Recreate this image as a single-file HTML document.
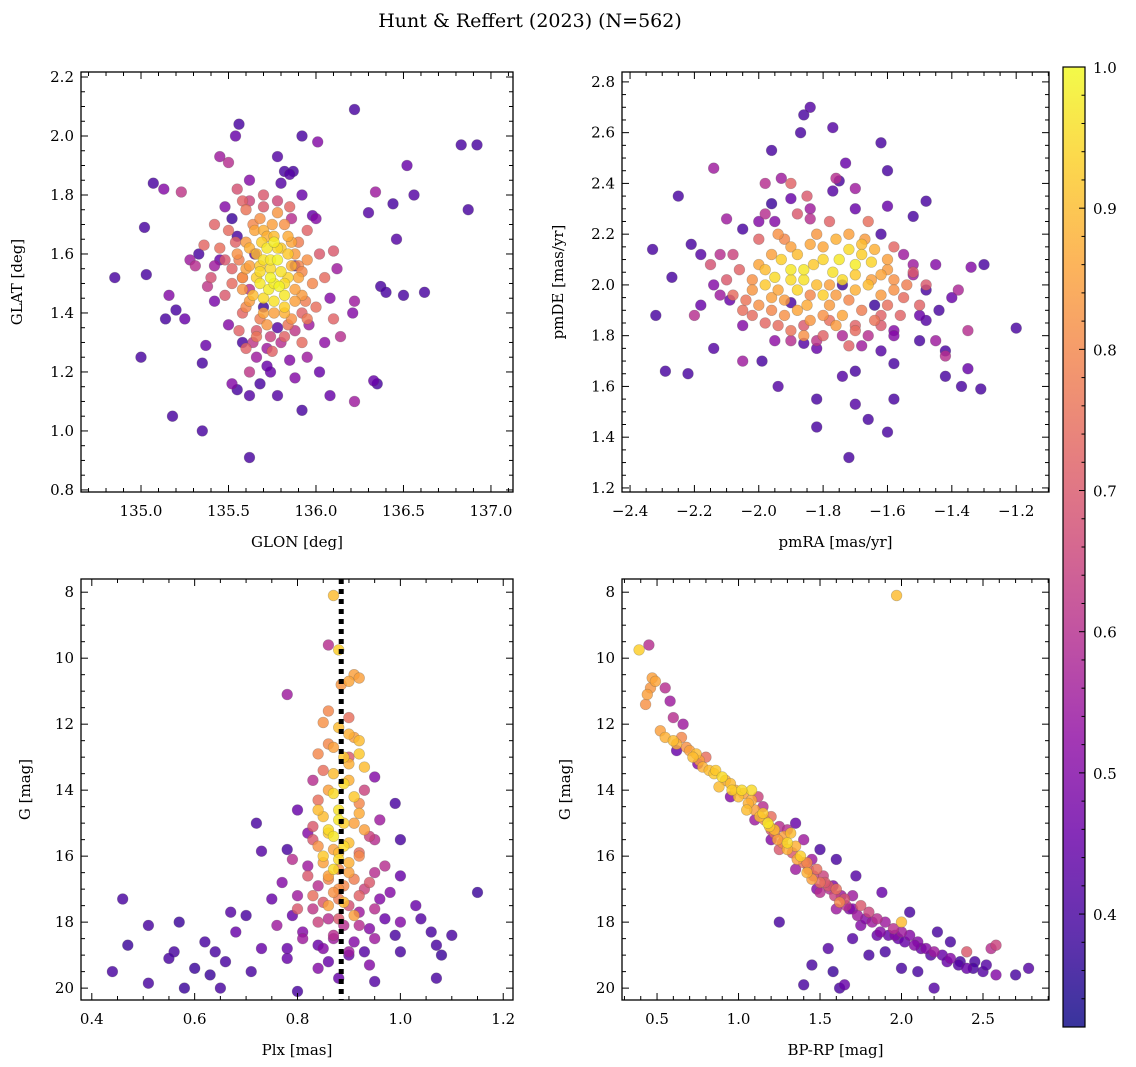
<!DOCTYPE html>
<html><head><meta charset="utf-8">
<style>
html,body{margin:0;padding:0;background:#fff;}
svg{display:block;font-family:"DejaVu Serif","Liberation Serif",serif;}
</style></head>
<body>
<svg id="fig" width="1136" height="1067" viewBox="0 0 1136 1067" xmlns="http://www.w3.org/2000/svg">
<text x="530" y="27" text-anchor="middle" font-size="19">Hunt &amp; Reffert (2023) (N=562)</text>
</svg>
<script>
// ---- Panel 1: GLON vs GLAT ----
const glon = [136.22,135.56,135.54,135.92,136.01,136.83,136.92,135.45,135.78,135.50,135.87,135.82,135.85,136.52,135.07,135.13,135.23,136.34,135.98,136.3,136.44,136.56,136.87,135.02,136.46,135.03,134.85,135.42,136.37,135.14,135.16,136.4,136.5,136.62,135.20,135.25,136.22,136.21,135.0,135.37,135.35,136.33,136.35,135.18,135.35,135.62,135.92,136.08,136.22,135.78,135.55,135.62,135.68,135.74,
135.72,135.76,135.70,135.78,135.74,135.68,135.73,135.79,135.82,135.76,135.66,135.84,135.80,135.69,
135.62,135.65,135.75,135.84,135.88,135.90,135.88,135.82,135.70,135.62,135.60,135.58,135.95,135.92,135.78,135.68,135.55,135.72,135.86,135.98,
135.50,135.52,135.45,135.60,135.85,135.95,136.02,136.05,136.0,135.95,135.82,135.66,135.58,135.48,135.40,135.42,136.10,135.55,135.70,135.92,135.60,135.75,135.36,136.10,135.58,
135.48,135.45,135.42,135.5,135.58,135.66,135.72,135.85,135.95,136.05,136.08,136.12,136.0,135.92,135.8,135.62,135.52,135.55,135.65,135.88,135.78,135.70,135.62,136.14,136.02,135.88,135.62,135.38,135.31,135.33,135.28,135.52,
135.64,135.70,135.76,135.82,135.86,135.60,135.66,135.72,135.78,135.84,135.90,135.56,135.62,135.68,135.74,135.80,135.86,135.92,135.58,135.64,135.70,135.76,135.82,135.88,135.94,135.52,135.60,135.68,135.76,135.84,135.92,135.66,135.74,135.80,135.56,135.64,135.72,135.88,135.96,135.48,135.54,135.70,135.78,135.86,135.62,135.68,135.82,135.90,135.74,135.58];
const glat = [2.09,2.04,2.0,2.0,1.98,1.97,1.97,1.93,1.93,1.91,1.88,1.88,1.87,1.90,1.84,1.82,1.81,1.81,1.73,1.74,1.77,1.80,1.75,1.69,1.65,1.53,1.52,1.56,1.49,1.38,1.46,1.47,1.46,1.47,1.41,1.38,1.44,1.40,1.25,1.29,1.23,1.17,1.16,1.05,1.0,0.91,1.07,1.12,1.10,1.12,1.14,1.12,1.16,1.20,
1.62,1.64,1.58,1.58,1.55,1.50,1.48,1.49,1.46,1.44,1.52,1.52,1.62,1.64,
1.62,1.68,1.70,1.66,1.60,1.52,1.44,1.40,1.40,1.44,1.55,1.48,1.58,1.46,1.74,1.72,1.60,1.36,1.38,1.50,
1.68,1.55,1.62,1.75,1.76,1.68,1.60,1.52,1.42,1.38,1.32,1.32,1.40,1.46,1.52,1.70,1.61,1.82,1.80,1.30,1.28,1.27,1.63,1.38,1.78,
1.76,1.58,1.44,1.36,1.30,1.25,1.22,1.24,1.25,1.30,1.45,1.55,1.72,1.80,1.84,1.85,1.72,1.66,1.60,1.56,1.35,1.42,1.48,1.32,1.20,1.18,1.20,1.49,1.56,1.60,1.58,1.16,
1.70,1.68,1.66,1.70,1.64,1.64,1.60,1.66,1.62,1.60,1.56,1.58,1.56,1.54,1.58,1.54,1.56,1.54,1.52,1.46,1.45,1.50,1.42,1.48,1.44,1.50,1.42,1.38,1.40,1.36,1.40,1.34,1.32,1.30,1.34,1.30,1.28,1.34,1.36,1.58,1.64,1.76,1.78,1.72,1.78,1.56,1.50,1.64,1.52,1.52];
const prob1 = [.4,.4,.45,.4,.5,.4,.4,.55,.42,.6,.4,.4,.42,.45,.4,.5,.62,.55,.45,.42,.4,.42,.4,.4,.42,.4,.4,.55,.4,.4,.5,.4,.4,.4,.4,.45,.55,.5,.4,.45,.4,.45,.4,.4,.4,.4,.4,.45,.55,.42,.4,.42,.4,.45,
.97,.98,.96,.99,.95,.97,.98,.99,.97,.96,.93,.94,.92,.93,
.88,.86,.85,.87,.84,.86,.85,.88,.86,.84,.85,.83,.82,.84,.83,.82,.82,.83,.82,.80,
.74,.72,.75,.76,.73,.72,.70,.74,.75,.77,.72,.76,.73,.70,.68,.72,.7,.68,.7,.74,.72,.72,.73,.72,.72,
.5,.45,.48,.5,.4,.55,.45,.5,.55,.52,.5,.55,.5,.45,.42,.5,.38,.4,.42,.4,.42,.38,.6,.6,.45,.5,.62,.62,.6,.4,.55,.5,
.8,.88,.9,.82,.86,.84,.9,.88,.95,.92,.8,.78,.85,.95,.97,.96,.88,.8,.82,.9,.95,.98,.93,.85,.78,.74,.8,.78,.85,.76,.72,.7,.65,.6,.72,.62,.55,.62,.55,.7,.72,.7,.66,.6,.65,.92,.95,.78,.99,.76];

// ---- Panel 2: pmRA vs pmDE ----
const pmra = [-1.84,-1.86,-1.77,-1.62,-1.87,-1.73,-1.60,-2.14,-1.96,-2.25,-1.75,-1.77,-1.60,-1.48,-2.33,-2.21,-2.27,-1.30,-1.34,-1.20,-2.32,-2.14,-2.29,-2.22,-1.37,-1.31,-1.35,-1.70,-1.74,-1.58,-1.82,-1.58,-1.70,-1.82,-1.66,-1.60,-1.72,-1.99,-1.94,-1.86,-1.42,-1.42,-1.45,-1.50,-1.48,-1.52,-2.09,-2.12,-2.00,-1.93,-1.90,
-1.95,-1.90,-1.93,-1.98,-1.86,-1.88,-1.75,-1.72,-1.70,-1.68,-1.77,-1.83,-1.65,-1.80,
-2.00,-1.96,-1.85,-1.80,-1.78,-1.70,-1.65,-1.62,-1.74,-1.84,-1.90,-2.02,-1.92,-1.67,-1.60,-1.82,-1.76,-1.86,-1.94,-1.58,
-2.06,-2.08,-2.10,-2.05,-1.98,-1.90,-1.80,-1.70,-1.62,-1.55,-1.52,-1.58,-1.66,-1.78,-1.88,-2.0,-1.85,-2.15,-1.72,-1.48,-1.50,-1.90,-2.02,
-2.12,-2.14,-2.18,-2.05,-1.95,-1.82,-1.68,-1.58,-1.48,-1.44,-1.40,-1.45,-1.55,-1.62,-1.70,-1.84,-1.95,-2.05,-2.18,-2.10,-1.98,-1.76,-1.70,-1.52,-1.38,-1.35,-1.42,-1.50,-1.62,-2.20,-2.05,-1.96,-1.74,-1.64,-1.90,
-1.96,-1.92,-1.88,-1.84,-1.80,-1.76,-1.72,-1.68,-1.64,-1.60,-2.02,-1.98,-1.94,-1.90,-1.86,-1.82,-1.78,-1.74,-1.70,-1.66,-1.62,-1.58,-1.54,-2.04,-2.00,-1.96,-1.92,-1.88,-1.84,-1.80,-1.76,-1.72,-1.68,-1.64,-1.60,-1.56,-1.94,-1.86,-1.78,-1.70,-1.62,-1.90,-1.82,-1.74,-1.66,-2.08,-1.98,-1.52,-1.58,-1.84];
const pmde = [2.70,2.67,2.62,2.56,2.60,2.48,2.45,2.46,2.53,2.35,2.41,2.37,2.31,2.33,2.14,2.16,2.03,2.08,2.07,1.83,1.88,1.75,1.66,1.65,1.60,1.59,1.67,1.66,1.64,1.69,1.55,1.55,1.53,1.44,1.47,1.42,1.32,1.70,1.60,1.77,1.74,1.64,1.78,1.88,1.98,2.04,1.94,2.12,2.25,2.42,2.34,
2.03,2.06,2.10,2.00,2.02,1.98,2.10,2.14,2.08,2.12,2.05,2.08,2.09,1.96,
2.08,1.95,1.92,2.15,1.92,1.98,2.02,1.96,1.88,1.86,2.15,1.98,1.88,2.18,2.10,2.20,1.84,1.80,2.20,2.02,
2.06,1.96,2.02,1.90,1.85,1.82,1.80,1.82,1.88,1.95,2.05,2.15,2.25,2.25,2.28,2.18,2.35,2.08,1.76,2.0,1.92,2.40,1.88,
1.96,2.00,1.92,1.84,1.78,1.75,1.76,1.82,1.86,1.90,1.95,2.08,2.12,2.20,2.30,2.30,2.25,2.22,2.12,2.26,2.40,2.42,2.38,2.27,1.98,1.82,1.72,1.78,1.74,1.88,1.70,2.32,2.0,1.92,1.93,
2.12,2.18,2.12,2.16,2.10,2.18,2.20,2.16,2.14,2.06,2.02,2.06,1.98,2.02,2.06,2.00,2.00,2.02,2.04,2.00,2.04,1.98,2.00,1.94,1.92,1.90,1.94,1.90,1.96,1.88,1.96,1.94,1.90,1.86,1.92,1.88,1.84,1.84,1.86,1.84,1.84,1.78,1.78,1.80,1.80,2.12,2.28,2.08,1.80,2.26];
const prob2 = [.42,.4,.42,.4,.4,.45,.4,.55,.4,.4,.4,.42,.45,.4,.4,.4,.4,.4,.5,.4,.4,.42,.4,.4,.4,.4,.45,.4,.42,.4,.4,.4,.42,.4,.4,.4,.4,.4,.42,.42,.4,.4,.55,.45,.4,.55,.45,.6,.5,.55,.45,
.95,.97,.93,.92,.96,.94,.97,.95,.98,.93,.96,.92,.94,.93,
.86,.85,.87,.86,.84,.88,.85,.84,.86,.83,.85,.83,.82,.84,.85,.83,.84,.82,.82,.82,
.72,.74,.7,.75,.73,.76,.72,.74,.72,.74,.7,.73,.75,.72,.7,.72,.7,.68,.72,.7,.72,.72,.74,
.55,.5,.45,.5,.52,.45,.55,.5,.42,.4,.45,.5,.55,.4,.45,.55,.5,.4,.42,.55,.6,.6,.55,.4,.58,.6,.6,.4,.42,.6,.55,.38,.38,.38,.4,
.85,.8,.9,.86,.94,.88,.85,.9,.88,.84,.82,.9,.86,.95,.97,.9,.85,.95,.92,.9,.86,.82,.78,.76,.82,.8,.84,.86,.8,.82,.84,.8,.78,.76,.75,.72,.74,.7,.75,.72,.7,.6,.62,.58,.6,.65,.6,.55,.5,.6];

// ---- Panel 3: Plx vs G ----
const plx = [0.87,0.88,0.86,0.91,0.90,0.885,0.92,0.78,0.86,0.85,0.90,0.90,0.92,0.87,0.84,0.92,0.90,0.87,0.95,0.89,0.86,0.91,0.84,0.88,0.92,0.85,0.89,0.83,0.93,0.87,0.90,0.84,0.95,0.80,0.82,0.96,0.88,0.92,0.85,0.79,0.97,0.90,0.86,0.82,0.94,0.77,1.0,0.88,0.83,0.92,0.75,0.98,0.86,0.80,0.95,0.70,1.03,0.88,0.84,0.92,0.76,1.0,0.68,0.87,0.81,0.95,1.06,0.62,0.73,0.85,0.90,1.0,0.78,0.66,0.94,0.84,1.08,0.71,0.60,0.88,0.80,0.95,0.78,0.72,0.73,0.99,1.0,0.46,0.44,0.47,0.51,0.51,0.57,0.56,0.58,0.65,1.15,1.10,1.07,1.07,1.04,0.55,0.63,0.67,0.64,0.9,0.83,0.93,0.87,0.89,0.91,0.86,0.88,
0.88,0.91,0.86,0.89,0.93,0.85,0.90,0.87,0.92,0.84,0.88,0.91,0.86,0.94,0.83,0.89,0.87,0.92,0.85,0.90,0.88,0.95,0.82,0.86,0.91,0.89,0.84,0.93,0.87,0.80,0.96,0.88,0.85,0.90,0.83,0.92,0.79,0.97,0.86,0.89,0.94,0.81,0.87,0.91,0.84,0.99,0.78,0.90,0.86,0.93];
const gmag3 = [8.1,9.75,9.6,10.5,10.7,10.8,10.6,11.1,11.6,11.95,11.8,12.3,12.5,12.7,12.9,12.9,13.2,13.5,13.6,13.8,14.0,14.2,14.3,14.6,14.7,14.8,15.0,15.1,15.2,15.4,15.6,15.7,15.5,14.6,15.3,14.9,15.9,16.0,16.2,16.1,16.3,16.5,16.7,16.6,16.8,16.8,16.6,17.0,17.2,17.2,17.3,17.1,17.5,17.6,17.6,17.8,17.5,17.9,18.0,18.1,18.1,18.0,18.3,18.4,18.5,18.5,18.3,18.6,18.8,18.8,18.9,18.9,19.1,19.2,19.3,19.4,19.0,19.5,19.4,19.7,20.1,19.8,15.8,15.0,15.85,14.4,15.5,17.3,19.5,18.7,19.85,18.1,18.0,18.9,20.0,20.0,17.1,18.4,19.7,18.7,17.9,19.1,19.6,17.7,18.9,13.0,13.7,14.0,16.4,17.4,17.8,15.2,16.1,
12.1,12.4,12.6,13.0,13.3,13.4,13.7,14.1,14.4,14.6,14.9,15.0,15.3,15.4,15.5,15.7,15.8,15.9,16.0,16.2,16.4,16.5,16.3,16.6,16.7,16.9,16.9,17.0,17.1,17.2,17.3,17.3,17.4,17.5,17.6,17.7,17.8,17.9,17.9,18.1,18.2,18.3,18.5,18.6,18.7,18.4,18.8,19.0,19.2,18.9];
const prob3 = [.9,.93,.6,.85,.86,.83,.85,.55,.8,.82,.75,.88,.9,.85,.8,.92,.88,.9,.5,.95,.85,.92,.75,.96,.87,.9,.93,.7,.85,.97,.9,.82,.6,.45,.5,.55,.9,.8,.85,.6,.6,.85,.8,.7,.7,.5,.45,.82,.75,.72,.45,.5,.85,.7,.6,.4,.45,.7,.65,.6,.55,.5,.45,.6,.55,.55,.4,.4,.45,.5,.55,.4,.45,.4,.5,.5,.38,.4,.38,.45,.4,.42,.4,.4,.42,.4,.4,.4,.4,.38,.4,.4,.38,.4,.38,.4,.38,.4,.4,.4,.42,.4,.38,.42,.4,.7,.6,.65,.95,.9,.85,.95,.95,
.9,.85,.8,.92,.9,.75,.88,.95,.8,.9,.97,.85,.92,.65,.7,.95,.85,.75,.92,.88,.8,.6,.55,.85,.78,.8,.6,.65,.82,.55,.5,.78,.7,.68,.62,.55,.45,.45,.6,.6,.5,.5,.55,.5,.45,.4,.45,.45,.45,.42];

// ---- Panel 4: BP-RP vs G ----
const bprp = [1.97,0.39,0.45,0.47,0.49,0.46,0.44,0.55,0.58,0.43,0.6,0.66,0.55,0.6,0.65,0.70,0.74,0.8,0.78,0.85,0.9,0.95,0.98,1.03,1.08,1.12,1.15,1.05,1.2,1.18,1.22,1.25,1.28,1.3,1.35,1.4,1.25,1.38,1.42,1.48,1.45,1.52,1.55,1.6,1.5,1.65,1.7,1.75,1.68,1.8,1.85,1.9,1.95,2.0,1.98,2.05,2.1,2.15,2.2,2.25,2.3,2.35,2.4,2.45,2.5,2.55,2.58,2.7,2.78,2.3,2.22,2.05,1.88,1.72,1.6,1.5,1.35,1.4,1.55,1.62,1.65,1.25,1.45,1.58,1.8,1.7,1.9,2.1,2.2,2.0,1.85,1.75,1.6,1.48,1.35,1.2,1.1,0.95,0.75,0.62,1.32,1.15,1.42,1.08,0.88,1.62,2.0,2.4,2.58,
0.52,0.62,0.68,0.72,0.76,0.82,0.86,0.92,0.96,1.00,1.02,1.06,1.10,1.13,1.16,1.19,1.22,1.24,1.27,1.30,1.33,1.36,1.40,1.43,1.46,1.50,1.53,1.56,1.59,1.63,1.66,1.70,1.73,1.78,1.82,1.87,1.92,1.96,2.02,2.08,2.12,2.18,2.28,2.36,2.44,2.52,1.30,1.20,1.45,1.58];
const gmag4 = [8.1,9.75,9.6,10.6,10.7,10.9,11.1,10.9,11.3,11.4,11.8,12.0,12.4,12.5,12.4,12.8,12.9,13.0,13.3,13.5,13.6,13.8,14.0,14.1,14.3,14.2,14.5,14.6,14.8,15.0,15.2,15.1,15.4,15.6,15.7,15.5,15.8,16.0,16.2,16.4,16.7,16.6,16.9,17.0,17.1,17.3,17.2,17.5,17.6,17.7,17.9,18.0,18.2,18.3,18.5,18.4,18.6,18.8,18.9,19.0,19.1,19.3,19.4,19.2,19.5,18.8,18.7,19.6,19.4,18.6,18.3,17.7,17.1,16.6,16.1,15.8,15.0,19.9,18.8,20.0,19.9,18.0,19.3,19.5,19.0,18.5,18.9,19.5,20.0,19.4,18.4,18.1,17.6,17.0,16.4,15.5,14.9,14.2,13.2,12.8,15.3,14.7,16.5,14.0,13.9,17.4,18.0,18.9,19.6,
12.2,12.6,12.7,13.0,13.1,13.4,13.4,13.7,14.0,14.2,14.0,14.4,14.6,14.8,14.9,15.1,15.3,15.5,15.6,15.8,15.9,16.1,16.2,16.4,16.6,16.8,16.8,17.0,17.2,17.2,17.5,17.6,17.8,17.9,18.0,18.3,18.4,18.4,18.6,18.7,18.8,19.0,19.2,19.2,19.4,19.3,15.2,15.2,16.1,16.9];
const prob4 = [.9,.93,.6,.85,.86,.83,.85,.6,.55,.82,.6,.55,.88,.9,.8,.85,.9,.75,.88,.92,.95,.9,.88,.85,.87,.65,.6,.9,.75,.97,.9,.6,.85,.95,.88,.55,.7,.93,.8,.75,.85,.65,.7,.75,.6,.68,.55,.7,.5,.65,.6,.55,.6,.55,.45,.5,.5,.5,.55,.45,.5,.42,.45,.4,.42,.6,.65,.4,.42,.4,.4,.4,.45,.42,.4,.4,.45,.4,.42,.4,.45,.4,.4,.38,.4,.42,.4,.4,.42,.4,.45,.5,.55,.5,.55,.5,.55,.5,.5,.45,.9,.92,.88,.95,.9,.8,.9,.7,.5,
.85,.88,.82,.9,.85,.9,.92,.88,.93,.9,.95,.88,.85,.9,.8,.92,.75,.85,.8,.88,.7,.85,.75,.7,.65,.75,.7,.6,.65,.55,.6,.5,.55,.5,.55,.5,.45,.5,.45,.5,.45,.42,.45,.4,.4,.42,.6,.7,.55,.5];

// colour scale
const vmin = 0.32, vmax = 1.0;
const cbTicks = [0.4,0.5,0.6,0.7,0.8,0.9,1.0];

const NS = "http://www.w3.org/2000/svg";
const fig = document.getElementById('fig');
const plasma = ["#0d0887","#41049d","#6a00a8","#8f0da4","#b12a90","#cc4778","#e16462","#f2844b","#fca636","#fcce25","#f0f921"];
function hex(h){return [parseInt(h.substr(1,2),16),parseInt(h.substr(3,2),16),parseInt(h.substr(5,2),16)];}
function cmap(v){
  let t=(v-vmin)/(vmax-vmin); t=Math.max(0,Math.min(1,t));
  const f=t*10, i=Math.min(9,Math.floor(f)), r=f-i;
  const a=hex(plasma[i]), b=hex(plasma[i+1]);
  return 'rgb('+a.map((c,k)=>Math.round(c+(b[k]-c)*r)).join(',')+')';
}
function mk(tag,attrs,parent){const e=document.createElementNS(NS,tag);for(const k in attrs)e.setAttribute(k,attrs[k]);(parent||fig).appendChild(e);return e;}
function fmt(v,d){let s=v.toFixed(d);return s.replace('-','\u2212');}

function panel(cfg){
  const g=mk('g',{});
  
  
  const L=cfg.box[0],T=cfg.box[1],R=cfg.box[2],B=cfg.box[3];
  const sx=v=>L+(v-cfg.xr[0])/(cfg.xr[1]-cfg.xr[0])*(R-L);
  const sy=cfg.inv? (v=>T+(v-cfg.yr[0])/(cfg.yr[1]-cfg.yr[0])*(B-T)) : (v=>B-(v-cfg.yr[0])/(cfg.yr[1]-cfg.yr[0])*(B-T));
  const clip='clip'+cfg.name;
  const cp=mk('clipPath',{id:clip},g); mk('rect',{x:L,y:T,width:R-L,height:B-T},cp);
  const pg=mk('g',{'clip-path':'url(#'+clip+')'},g);
  
  
  const idx=cfg.x.map((_,i)=>i).sort((a,b)=>cfg.c[a]-cfg.c[b]);
  idx.forEach(i=>{
    const c=mk('circle',{cx:sx(cfg.x[i]).toFixed(1),cy:sy(cfg.y[i]).toFixed(1),r:5.4,fill:cmap(cfg.c[i]),'fill-opacity':0.82,stroke:'rgba(90,90,90,0.35)','stroke-width':0.6},pg);
    
    
  });
  if(cfg.vline!==undefined){
    const l=mk('line',{x1:sx(cfg.vline),x2:sx(cfg.vline),y1:T,y2:B,stroke:'#000','stroke-width':5,'stroke-dasharray':'5,5'},pg);
    
    
  }
  const tg=mk('g',{stroke:'#000','stroke-width':1},g);
  const eps=1e-9;
  for(let v=Math.ceil(cfg.xr[0]/cfg.xmin-eps)*cfg.xmin; v<=cfg.xr[1]+eps; v+=cfg.xmin){
    const maj=Math.abs(v/cfg.xmaj-Math.round(v/cfg.xmaj))<1e-4, len=maj?7:4, x=sx(v);
    mk('line',{x1:x,x2:x,y1:B,y2:B-len},tg); mk('line',{x1:x,x2:x,y1:T,y2:T+len},tg);
  }
  for(let v=Math.ceil(cfg.yr[0]/cfg.ymin-eps)*cfg.ymin; v<=cfg.yr[1]+eps; v+=cfg.ymin){
    const maj=Math.abs(v/cfg.ymaj-Math.round(v/cfg.ymaj))<1e-4, len=maj?7:4, y=sy(v);
    mk('line',{x1:L,x2:L+len,y1:y,y2:y},tg); mk('line',{x1:R,x2:R-len,y1:y,y2:y},tg);
  }
  cfg.xt.forEach(v=>{const t=mk('text',{x:sx(v),y:B+24,'text-anchor':'middle','font-size':15},g);t.textContent=fmt(v,cfg.xd);
    
    });
  cfg.yt.forEach(v=>{const t=mk('text',{x:L-7,y:sy(v)+5,'text-anchor':'end','font-size':15},g);t.textContent=fmt(v,cfg.yd);
    
    });
  mk('rect',{x:L,y:T,width:R-L,height:B-T,fill:'none',stroke:'#000','stroke-width':1.3},g);
  const xl=mk('text',{x:(L+R)/2,y:B+55,'text-anchor':'middle','font-size':15},g); xl.textContent=cfg.xlab;
  
  
  const yl=mk('text',{x:0,y:0,'text-anchor':'middle','font-size':15,transform:'translate('+cfg.ylx+','+((T+B)/2)+') rotate(-90)'},g); yl.textContent=cfg.ylab;
  
  
}

panel({name:'glon-glat-panel',box:[81,72,513,492],x:glon,y:glat,c:prob1,xr:[134.657,137.126],yr:[0.793,2.217],
  xmaj:0.5,xmin:0.1,ymaj:0.2,ymin:0.05,xt:[135,135.5,136,136.5,137],yt:[0.8,1.0,1.2,1.4,1.6,1.8,2.0,2.2],xd:1,yd:1,
  xlab:'GLON [deg]',ylab:'GLAT [deg]',ylx:22});
panel({name:'pm-panel',box:[622,72,1049,492],x:pmra,y:pmde,c:prob2,xr:[-2.425,-1.098],yr:[1.184,2.839],
  xmaj:0.2,xmin:0.05,ymaj:0.2,ymin:0.05,xt:[-2.4,-2.2,-2.0,-1.8,-1.6,-1.4,-1.2],yt:[1.2,1.4,1.6,1.8,2.0,2.2,2.4,2.6,2.8],xd:1,yd:1,
  xlab:'pmRA [mas/yr]',ylab:'pmDE [mas/yr]',ylx:563});
panel({name:'plx-g-panel',box:[81,579,513,1000],x:plx,y:gmag3,c:prob3,xr:[0.379,1.219],yr:[7.6,20.36],inv:true,vline:0.885,
  xmaj:0.2,xmin:0.05,ymaj:2,ymin:0.5,xt:[0.4,0.6,0.8,1.0,1.2],yt:[8,10,12,14,16,18,20],xd:1,yd:0,
  xlab:'Plx [mas]',ylab:'G [mag]',ylx:30});
panel({name:'cmd-panel',box:[622,579,1049,1000],x:bprp,y:gmag4,c:prob4,xr:[0.285,2.905],yr:[7.6,20.36],inv:true,
  xmaj:0.5,xmin:0.1,ymaj:2,ymin:0.5,xt:[0.5,1.0,1.5,2.0,2.5],yt:[8,10,12,14,16,18,20],xd:1,yd:0,
  xlab:'BP-RP [mag]',ylab:'G [mag]',ylx:570});

(function(){
  const L=1063,R=1085,T=67,B=1027;
  const g=mk('g',{});
  
  
  const defs=mk('defs',{},g);
  const lg=mk('linearGradient',{id:'cbgrad',x1:0,y1:1,x2:0,y2:0},defs);
  plasma.forEach((c,i)=>mk('stop',{offset:(i/10),'stop-color':c},lg));
  mk('rect',{x:L,y:T,width:R-L,height:B-T,fill:'url(#cbgrad)','fill-opacity':0.82},g);
  const sy=v=>B-(v-vmin)/(vmax-vmin)*(B-T);
  for(let v=0.34;v<=1.0001;v+=0.02){const y=sy(v);const maj=Math.abs(v*10-Math.round(v*10))<1e-4;mk('line',{x1:R,x2:R-(maj?6:3.5),y1:y,y2:y,stroke:'#000'},g);}
  cbTicks.forEach(v=>{const t=mk('text',{x:R+8,y:sy(v)+6,'font-size':15},g);t.textContent=v.toFixed(1);
    
    });
  mk('rect',{x:L,y:T,width:R-L,height:B-T,fill:'none',stroke:'#000','stroke-width':1.2},g);
})();
</script>
</body></html>
